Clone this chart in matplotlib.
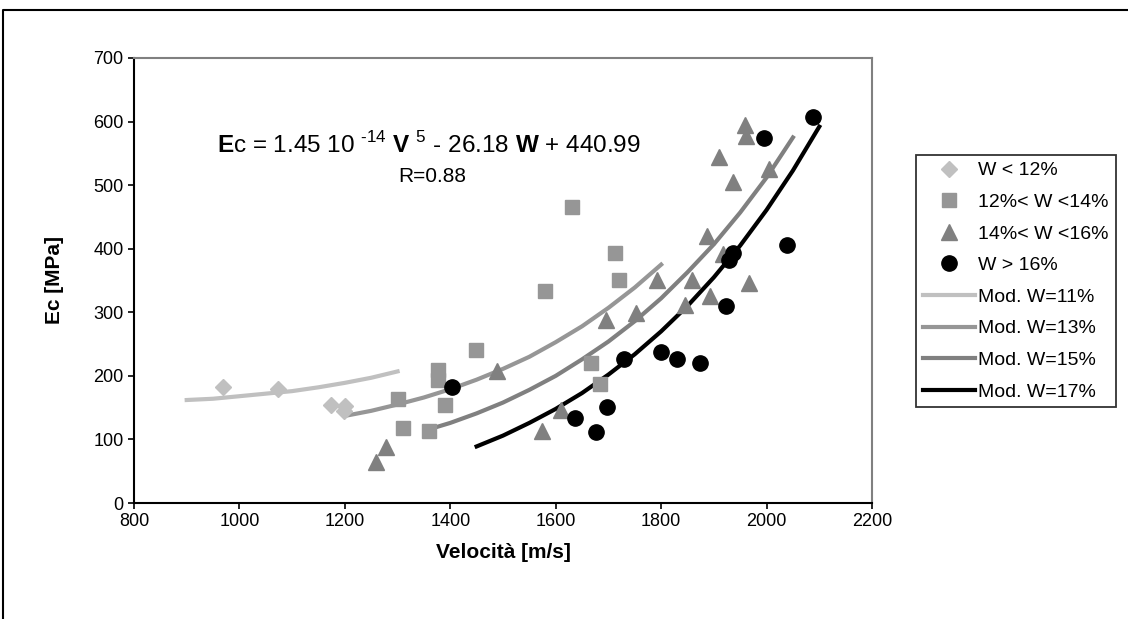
import matplotlib
matplotlib.use('Agg')
import matplotlib.pyplot as plt
from matplotlib.lines import Line2D

plt.rcParams['font.family'] = ['Liberation Sans', 'DejaVu Sans']
plt.rcParams['mathtext.fontset'] = 'custom'
plt.rcParams['mathtext.rm'] = 'Liberation Sans'
plt.rcParams['mathtext.bf'] = 'Liberation Sans:bold'

# --- measured points (velocity m/s, Ec MPa) ---
v_w12 = [969, 1073, 1173, 1201, 1198]
e_w12 = [183, 179, 154, 153, 144]

v_w14 = [1301, 1310, 1360, 1377, 1377, 1390, 1449, 1580, 1630, 1666, 1684, 1713, 1721]
e_w14 = [163, 118, 114, 209, 194, 154, 241, 333, 465, 220, 187, 394, 351]

v_w16 = [1259, 1278, 1488, 1574, 1610, 1696, 1752, 1792, 1845, 1858, 1893, 1887,
         1918, 1966, 1936, 1959, 1961, 1909, 2004]
e_w16 = [65, 88, 207, 113, 147, 288, 299, 351, 312, 351, 325, 420,
         392, 346, 505, 594, 578, 545, 526]

v_w17 = [1403, 1637, 1677, 1698, 1730, 1799, 1830, 1874, 1923, 1928, 1937, 1996, 2039, 2089]
e_w17 = [183, 133, 111, 151, 226, 237, 226, 220, 310, 382, 393, 574, 406, 607]

# --- model curves every 50 m/s ---
v_m11 = [900, 950, 1000, 1050, 1100, 1150, 1200, 1250, 1300]
e_m11 = [162, 164, 168, 172, 176, 182, 189, 197, 207]

v_m13 = [1200, 1250, 1300, 1350, 1400, 1450, 1500, 1550, 1600, 1650, 1700, 1750, 1800]
e_m13 = [137, 145, 155, 166, 179, 194, 211, 230, 253, 278, 307, 339, 375]

v_m15 = [1360, 1400, 1450, 1500, 1550, 1600, 1650, 1700, 1750, 1800, 1850, 1900, 1950, 2000, 2050]
e_m15 = [116, 126, 141, 158, 178, 200, 226, 254, 286, 322, 363, 407, 457, 512, 575]

v_m17 = [1450, 1500, 1550, 1600, 1650, 1700, 1750, 1800, 1850, 1900, 1950, 2000, 2050, 2100]
e_m17 = [89, 106, 126, 148, 173, 202, 234, 270, 310, 355, 405, 461, 523, 592]

x_ticks = [800, 1000, 1200, 1400, 1600, 1800, 2000, 2200]
y_ticks = [0, 100, 200, 300, 400, 500, 600, 700]

fig = plt.figure(figsize=(11.28, 6.19), dpi=100)
ax = fig.add_axes([134 / 1128, 1 - 503 / 619, 738 / 1128, 445 / 619])

ax.plot(v_w12, e_w12, 'D', color='#c0c0c0', ms=8, mec='#c0c0c0', label='W < 12%', zorder=3)
ax.plot(v_w14, e_w14, 's', color='#969696', ms=10, mec='#969696', label='12%< W <14%', zorder=3)
ax.plot(v_w16, e_w16, '^', color='#808080', ms=11, mec='#808080', label='14%< W <16%', zorder=3)
ax.plot(v_w17, e_w17, 'o', color='black', ms=11, label='W > 16%', zorder=4)

ax.plot(v_m11, e_m11, color='#c0c0c0', lw=3, label='Mod. W=11%', zorder=2)
ax.plot(v_m13, e_m13, color='#969696', lw=3, label='Mod. W=13%', zorder=2)
ax.plot(v_m15, e_m15, color='#808080', lw=3, label='Mod. W=15%', zorder=2)
ax.plot(v_m17, e_m17, color='black', lw=3, label='Mod. W=17%', zorder=2)

ax.set_xlim(800, 2200)
ax.set_ylim(0, 700)
ax.set_xticks(x_ticks)
ax.set_yticks(y_ticks)
ax.tick_params(direction='out', length=4, width=1.2, labelsize=13, colors='black')
for s in ['left', 'bottom']:
    ax.spines[s].set_color('black')
    ax.spines[s].set_linewidth(1.5)
for s in ['top', 'right']:
    ax.spines[s].set_color('#808080')
    ax.spines[s].set_linewidth(1.5)

ax.set_xlabel('Velocità [m/s]', fontsize=15, fontweight='bold')
ax.set_ylabel('Ec [MPa]', fontsize=15, fontweight='bold')
ax.xaxis.set_label_coords(0.5, -0.09)
ax.yaxis.set_label_coords(-0.095, 0.5)

eq = r'$\mathbf{E}$c = 1.45 10 $^{\text{-14}}$ $\mathbf{V}$ $^{5}$ - 26.18 $\mathbf{W}$ + 440.99'
fig.text(217 / 1128, 1 - 145 / 619, eq, fontsize=17.5, ha='left', va='center')
fig.text(432 / 1128, 1 - 176 / 619, 'R=0.88', fontsize=15, ha='center', va='center')

leg = ax.legend(loc='upper left', bbox_to_anchor=(916 / 1128, 1 - 155 / 619),
                bbox_transform=fig.transFigure, fontsize=14, frameon=True,
                fancybox=False, edgecolor='black', borderpad=0.35,
                handlelength=2.7, handletextpad=0.15, labelspacing=0.72,
                borderaxespad=0)
leg.get_frame().set_linewidth(1.3)

# outer chart frame (cut at right and bottom)
fig.add_artist(Line2D([3 / 1128, 3 / 1128, 1], [0, 1 - 10 / 619, 1 - 10 / 619],
                      transform=fig.transFigure, color='black', lw=1.5))

fig.savefig('out.png', dpi=100)
